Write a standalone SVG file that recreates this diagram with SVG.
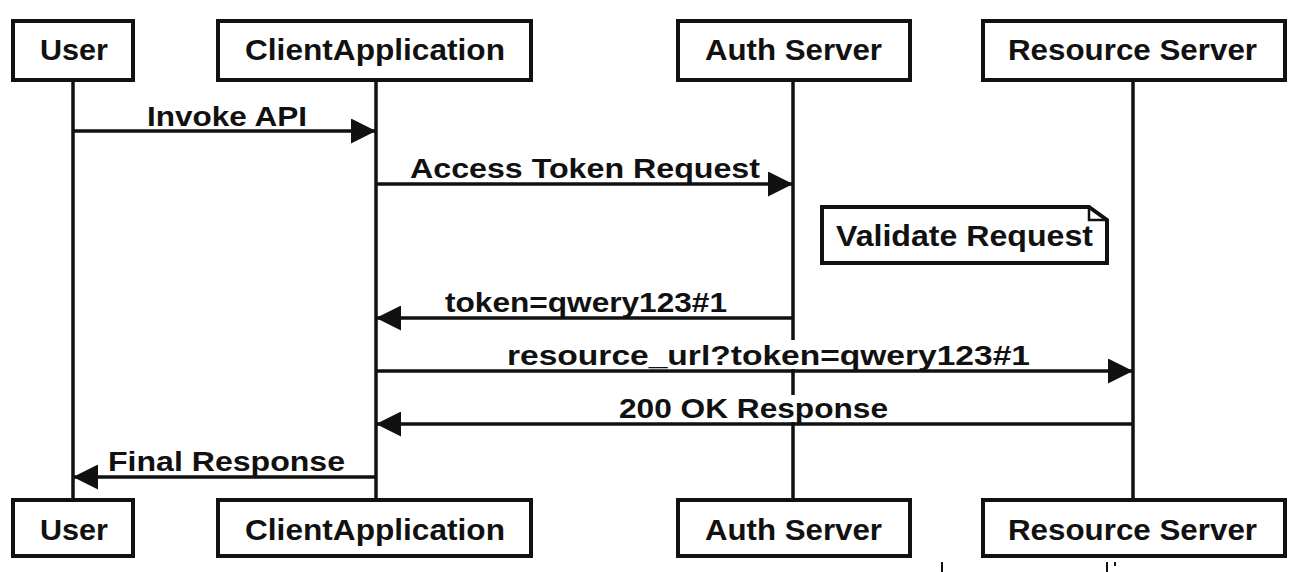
<svg xmlns="http://www.w3.org/2000/svg" width="1300" height="572" viewBox="0 0 1300 572">
<style>
  .box { fill: #fff; stroke: #111; stroke-width: 4; }
  .life { stroke: #111; stroke-width: 3.5; fill: none; }
  .msg { stroke: #111; stroke-width: 3.5; fill: none; }
  .lbl { font-family: "Liberation Sans", Arial, sans-serif; font-weight: bold; fill: #111; text-anchor: start; }
  .big { font-size: 30px; }
  .small { font-size: 28px; }
  .bg { fill: #fff; }
</style>
<defs>
  <marker id="ah" viewBox="0 0 25 25" refX="25" refY="12.5" markerWidth="25" markerHeight="25" markerUnits="userSpaceOnUse" orient="auto">
    <path d="M0,0 L25,12.5 L0,25 Z" fill="#111"/>
  </marker>
</defs>
<rect width="1300" height="572" fill="#fff"/>

<g id="lifelines">
  <line class="life" x1="73" y1="80" x2="73" y2="500"/>
  <line class="life" x1="376" y1="80" x2="376" y2="500"/>
  <line class="life" x1="793" y1="80" x2="793" y2="500"/>
  <line class="life" x1="1133" y1="80" x2="1133" y2="500"/>
</g>

<g id="connectors">
  <line class="msg" x1="73" y1="131" x2="376" y2="131" marker-end="url(#ah)"/>
  <text class="lbl small" x="147" y="126" textLength="160" lengthAdjust="spacingAndGlyphs">Invoke API</text>

  <line class="msg" x1="376" y1="184" x2="793" y2="184" marker-end="url(#ah)"/>
  <text class="lbl small" x="410" y="178" textLength="350" lengthAdjust="spacingAndGlyphs">Access Token Request</text>

  <line class="msg" x1="793" y1="318" x2="376" y2="318" marker-end="url(#ah)"/>
  <text class="lbl small" x="445" y="312" textLength="282" lengthAdjust="spacingAndGlyphs">token=qwery123#1</text>

  <rect class="bg" x="505" y="340" width="527" height="29"/>
  <line class="msg" x1="376" y1="371" x2="1133" y2="371" marker-end="url(#ah)"/>
  <text class="lbl small" x="507" y="365" textLength="523" lengthAdjust="spacingAndGlyphs">resource_url?token=qwery123#1</text>

  <rect class="bg" x="617" y="395" width="273" height="27"/>
  <line class="msg" x1="1133" y1="424" x2="376" y2="424" marker-end="url(#ah)"/>
  <text class="lbl small" x="619" y="418" textLength="269" lengthAdjust="spacingAndGlyphs">200 OK Response</text>

  <line class="msg" x1="376" y1="477" x2="73" y2="477" marker-end="url(#ah)"/>
  <text class="lbl small" x="108" y="471" textLength="237" lengthAdjust="spacingAndGlyphs">Final Response</text>
</g>

<g id="user-top">
  <rect class="box" x="13" y="21" width="120" height="59"/>
  <text class="lbl big" x="40" y="60" textLength="68" lengthAdjust="spacingAndGlyphs">User</text>
</g>
<g id="client-top">
  <rect class="box" x="218" y="21" width="313" height="59"/>
  <text class="lbl big" x="245" y="60" textLength="260" lengthAdjust="spacingAndGlyphs">ClientApplication</text>
</g>
<g id="auth-top">
  <rect class="box" x="678" y="21" width="232" height="59"/>
  <text class="lbl big" x="705" y="60" textLength="177" lengthAdjust="spacingAndGlyphs">Auth Server</text>
</g>
<g id="resource-top">
  <rect class="box" x="983" y="21" width="302" height="59"/>
  <text class="lbl big" x="1008" y="60" textLength="249" lengthAdjust="spacingAndGlyphs">Resource Server</text>
</g>

<g id="note-validate">
  <path class="box" d="M822,207 H1089 L1107,220 V263 H822 Z"/>
  <path d="M1089,207 V220 H1107" fill="none" stroke="#111" stroke-width="2.5"/>
  <text class="lbl big" x="836" y="246" textLength="257" lengthAdjust="spacingAndGlyphs">Validate Request</text>
</g>

<g id="user-bottom">
  <rect class="box" x="13" y="500" width="120" height="56"/>
  <text class="lbl big" x="40" y="540" textLength="68" lengthAdjust="spacingAndGlyphs">User</text>
</g>
<g id="client-bottom">
  <rect class="box" x="218" y="500" width="313" height="56"/>
  <text class="lbl big" x="245" y="540" textLength="260" lengthAdjust="spacingAndGlyphs">ClientApplication</text>
</g>
<g id="auth-bottom">
  <rect class="box" x="678" y="500" width="232" height="56"/>
  <text class="lbl big" x="705" y="540" textLength="177" lengthAdjust="spacingAndGlyphs">Auth Server</text>
</g>
<g id="resource-bottom">
  <rect class="box" x="983" y="500" width="302" height="56"/>
  <text class="lbl big" x="1008" y="540" textLength="249" lengthAdjust="spacingAndGlyphs">Resource Server</text>
</g>

<g id="edge-marks" fill="#111">
  <rect x="941" y="562" width="2" height="10"/>
  <rect x="1106" y="562" width="2" height="10"/>
  <rect x="1114" y="562" width="2" height="4"/>
</g>
</svg>
